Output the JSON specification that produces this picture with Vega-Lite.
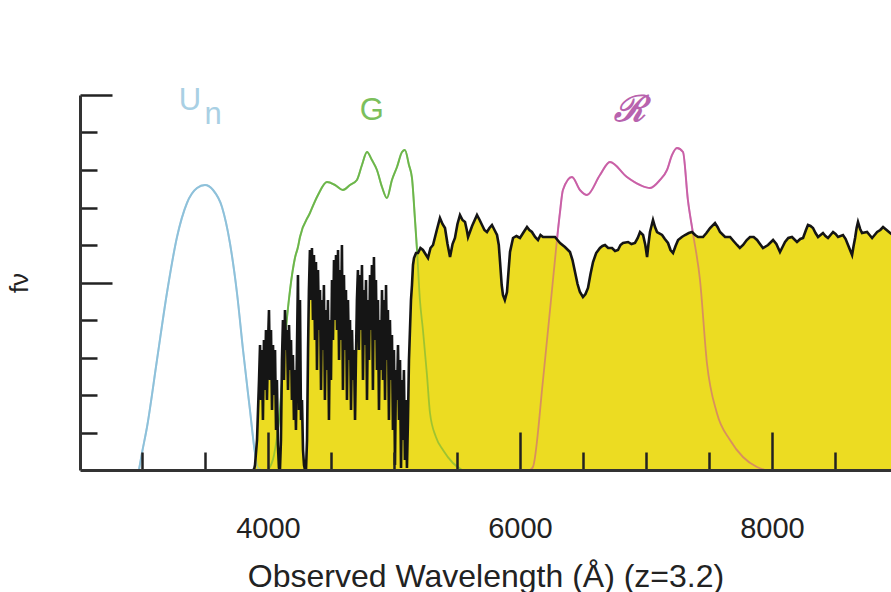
{
  "$schema": "https://vega.github.io/schema/vega-lite/v6.json",
  "width": 811,
  "height": 375,
  "autosize": {"type": "none"},
  "padding": {"left": 80, "top": 95, "right": 0, "bottom": 122},
  "background": "white",
  "config": {"view": {"stroke": null}},
  "datasets": {
    "spectrum": [
      {"w":3873,"f":0},{"w":3889,"f":0},{"w":3897,"f":5},{"w":3913,"f":30},{"w":3929,"f":90},{"w":3937,"f":125},{"w":3945,"f":70},{"w":3952,"f":120},{"w":3960,"f":50},{"w":3968,"f":130},{"w":3976,"f":80},{"w":3984,"f":140},{"w":3992,"f":70},{"w":4000,"f":125},{"w":4008,"f":160},{"w":4016,"f":90},{"w":4024,"f":140},{"w":4032,"f":60},{"w":4040,"f":125},{"w":4048,"f":75},{"w":4056,"f":120},{"w":4064,"f":40},{"w":4071,"f":90},{"w":4079,"f":25},{"w":4087,"f":2},{"w":4095,"f":0},{"w":4103,"f":30},{"w":4111,"f":110},{"w":4119,"f":150},{"w":4127,"f":90},{"w":4135,"f":160},{"w":4143,"f":120},{"w":4151,"f":140},{"w":4159,"f":80},{"w":4167,"f":145},{"w":4175,"f":100},{"w":4183,"f":130},{"w":4190,"f":70},{"w":4198,"f":115},{"w":4206,"f":50},{"w":4214,"f":100},{"w":4222,"f":40},{"w":4230,"f":120},{"w":4238,"f":195},{"w":4246,"f":60},{"w":4254,"f":170},{"w":4262,"f":50},{"w":4270,"f":70},{"w":4278,"f":20},{"w":4286,"f":5},{"w":4294,"f":0},{"w":4302,"f":1},{"w":4310,"f":30},{"w":4318,"f":120},{"w":4325,"f":180},{"w":4333,"f":220},{"w":4341,"f":170},{"w":4349,"f":222},{"w":4357,"f":150},{"w":4365,"f":215},{"w":4373,"f":130},{"w":4381,"f":208},{"w":4389,"f":100},{"w":4397,"f":200},{"w":4405,"f":140},{"w":4413,"f":180},{"w":4421,"f":80},{"w":4429,"f":170},{"w":4437,"f":120},{"w":4444,"f":185},{"w":4452,"f":70},{"w":4460,"f":160},{"w":4468,"f":100},{"w":4476,"f":170},{"w":4484,"f":50},{"w":4492,"f":150},{"w":4500,"f":90},{"w":4508,"f":190},{"w":4516,"f":130},{"w":4524,"f":210},{"w":4532,"f":150},{"w":4540,"f":215},{"w":4548,"f":140},{"w":4556,"f":220},{"w":4564,"f":110},{"w":4571,"f":200},{"w":4579,"f":130},{"w":4587,"f":225},{"w":4595,"f":80},{"w":4603,"f":195},{"w":4611,"f":120},{"w":4619,"f":180},{"w":4627,"f":70},{"w":4635,"f":170},{"w":4643,"f":110},{"w":4651,"f":150},{"w":4659,"f":60},{"w":4667,"f":140},{"w":4675,"f":90},{"w":4683,"f":120},{"w":4691,"f":50},{"w":4698,"f":110},{"w":4706,"f":170},{"w":4714,"f":200},{"w":4722,"f":120},{"w":4730,"f":195},{"w":4738,"f":140},{"w":4746,"f":205},{"w":4754,"f":90},{"w":4762,"f":180},{"w":4770,"f":125},{"w":4778,"f":190},{"w":4786,"f":70},{"w":4794,"f":170},{"w":4802,"f":110},{"w":4810,"f":195},{"w":4817,"f":140},{"w":4825,"f":205},{"w":4833,"f":80},{"w":4841,"f":213},{"w":4849,"f":130},{"w":4857,"f":190},{"w":4865,"f":100},{"w":4873,"f":170},{"w":4881,"f":60},{"w":4889,"f":150},{"w":4897,"f":100},{"w":4905,"f":180},{"w":4913,"f":90},{"w":4921,"f":170},{"w":4929,"f":70},{"w":4937,"f":185},{"w":4944,"f":110},{"w":4952,"f":160},{"w":4960,"f":50},{"w":4968,"f":150},{"w":4976,"f":90},{"w":4984,"f":135},{"w":4992,"f":40},{"w":5000,"f":120},{"w":5008,"f":5},{"w":5016,"f":100},{"w":5024,"f":70},{"w":5032,"f":125},{"w":5040,"f":50},{"w":5048,"f":110},{"w":5056,"f":2},{"w":5064,"f":90},{"w":5071,"f":30},{"w":5079,"f":100},{"w":5087,"f":10},{"w":5095,"f":70},{"w":5103,"f":2},{"w":5111,"f":50},{"w":5119,"f":110},{"w":5127,"f":140},{"w":5135,"f":170},{"w":5143,"f":185},{"w":5151,"f":205},{"w":5159,"f":212},{"w":5175,"f":217},
      {"w":5191,"f":217},{"w":5210,"f":222},{"w":5230,"f":220},{"w":5250,"f":216},{"w":5270,"f":212},{"w":5290,"f":222},{"w":5310,"f":225},{"w":5340,"f":240},{"w":5365,"f":252},{"w":5385,"f":246},{"w":5405,"f":242},{"w":5425,"f":226},{"w":5445,"f":213},{"w":5465,"f":226},{"w":5484,"f":232},{"w":5504,"f":246},{"w":5524,"f":255},{"w":5544,"f":250},{"w":5564,"f":248},{"w":5578,"f":240},{"w":5588,"f":233},{"w":5620,"f":244},{"w":5659,"f":255},{"w":5680,"f":250},{"w":5699,"f":245},{"w":5718,"f":240},{"w":5738,"f":238},{"w":5758,"f":242},{"w":5778,"f":245},{"w":5798,"f":240},{"w":5818,"f":235},{"w":5832,"f":225},{"w":5842,"f":208},{"w":5855,"f":185},{"w":5865,"f":175},{"w":5880,"f":170},{"w":5897,"f":178},{"w":5910,"f":200},{"w":5921,"f":218},{"w":5945,"f":232},{"w":5972,"f":234},{"w":6000,"f":232},{"w":6030,"f":238},{"w":6056,"f":243},{"w":6075,"f":240},{"w":6095,"f":238},{"w":6120,"f":233},{"w":6143,"f":230},{"w":6163,"f":235},{"w":6183,"f":233},{"w":6230,"f":233},{"w":6278,"f":233},{"w":6298,"f":230},{"w":6318,"f":227},{"w":6357,"f":223},{"w":6397,"f":218},{"w":6417,"f":210},{"w":6437,"f":198},{"w":6457,"f":186},{"w":6476,"f":178},{"w":6500,"f":173},{"w":6520,"f":176},{"w":6540,"f":182},{"w":6560,"f":196},{"w":6580,"f":208},{"w":6605,"f":217},{"w":6635,"f":222},{"w":6655,"f":224},{"w":6675,"f":225},{"w":6700,"f":222},{"w":6731,"f":222},{"w":6755,"f":219},{"w":6778,"f":220},{"w":6798,"f":225},{"w":6818,"f":227},{"w":6858,"f":228},{"w":6885,"f":226},{"w":6913,"f":227},{"w":6935,"f":232},{"w":6953,"f":238},{"w":6977,"f":235},{"w":6995,"f":225},{"w":7009,"f":213},{"w":7020,"f":226},{"w":7032,"f":238},{"w":7056,"f":250},{"w":7072,"f":243},{"w":7088,"f":238},{"w":7128,"f":235},{"w":7150,"f":231},{"w":7175,"f":227},{"w":7195,"f":220},{"w":7215,"f":217},{"w":7235,"f":224},{"w":7255,"f":230},{"w":7285,"f":233},{"w":7310,"f":235},{"w":7340,"f":237},{"w":7366,"f":238},{"w":7390,"f":235},{"w":7414,"f":233},{"w":7453,"f":233},{"w":7480,"f":237},{"w":7509,"f":242},{"w":7548,"f":247},{"w":7568,"f":243},{"w":7588,"f":238},{"w":7628,"f":233},{"w":7668,"f":233},{"w":7695,"f":229},{"w":7723,"f":225},{"w":7745,"f":222},{"w":7771,"f":225},{"w":7800,"f":230},{"w":7826,"f":233},{"w":7855,"f":233},{"w":7882,"f":230},{"w":7905,"f":226},{"w":7929,"f":222},{"w":7969,"f":225},{"w":8009,"f":230},{"w":8035,"f":226},{"w":8064,"f":218},{"w":8084,"f":223},{"w":8104,"f":228},{"w":8130,"f":232},{"w":8159,"f":233},{"w":8199,"f":228},{"w":8225,"f":231},{"w":8247,"f":232},{"w":8270,"f":240},{"w":8286,"f":245},{"w":8306,"f":244},{"w":8326,"f":242},{"w":8346,"f":237},{"w":8366,"f":233},{"w":8405,"f":237},{"w":8425,"f":234},{"w":8445,"f":232},{"w":8465,"f":235},{"w":8485,"f":238},{"w":8505,"f":236},{"w":8525,"f":233},{"w":8564,"f":235},{"w":8585,"f":231},{"w":8604,"f":225},{"w":8620,"f":220},{"w":8636,"f":215},{"w":8648,"f":224},{"w":8660,"f":232},{"w":8672,"f":242},{"w":8683,"f":248},{"w":8700,"f":241},{"w":8715,"f":237},{"w":8755,"f":238},{"w":8775,"f":235},{"w":8795,"f":232},{"w":8815,"f":235},{"w":8835,"f":238},{"w":8860,"f":240},{"w":8882,"f":243},{"w":8910,"f":240},{"w":8938,"f":237},{"w":8960,"f":235}
    ],
    "filters": [
      {"band":"Un","w":2976,"f":0},{"band":"Un","w":3000,"f":17},{"band":"Un","w":3040,"f":43},{"band":"Un","w":3119,"f":110},{"band":"Un","w":3198,"f":177},{"band":"Un","w":3278,"f":233},{"band":"Un","w":3357,"f":267},{"band":"Un","w":3437,"f":282},{"band":"Un","w":3500,"f":285},{"band":"Un","w":3564,"f":280},{"band":"Un","w":3635,"f":263},{"band":"Un","w":3698,"f":227},{"band":"Un","w":3754,"f":177},{"band":"Un","w":3802,"f":120},{"band":"Un","w":3857,"f":60},{"band":"Un","w":3897,"f":17},{"band":"Un","w":3921,"f":2},{"band":"Un","w":3952,"f":0},
      {"band":"G","w":4000,"f":0},{"band":"G","w":4048,"f":15},{"band":"G","w":4095,"f":60},{"band":"G","w":4135,"f":130},{"band":"G","w":4175,"f":180},{"band":"G","w":4214,"f":212},{"band":"G","w":4238,"f":223},{"band":"G","w":4254,"f":233},{"band":"G","w":4333,"f":257},{"band":"G","w":4397,"f":275},{"band":"G","w":4468,"f":288},{"band":"G","w":4532,"f":285},{"band":"G","w":4595,"f":280},{"band":"G","w":4651,"f":285},{"band":"G","w":4706,"f":290},{"band":"G","w":4746,"f":305},{"band":"G","w":4786,"f":318},{"band":"G","w":4825,"f":310},{"band":"G","w":4865,"f":300},{"band":"G","w":4905,"f":283},{"band":"G","w":4944,"f":272},{"band":"G","w":4984,"f":290},{"band":"G","w":5024,"f":303},{"band":"G","w":5064,"f":318},{"band":"G","w":5087,"f":320},{"band":"G","w":5119,"f":305},{"band":"G","w":5143,"f":292},{"band":"G","w":5167,"f":250},{"band":"G","w":5183,"f":220},{"band":"G","w":5206,"f":170},{"band":"G","w":5230,"f":140},{"band":"G","w":5262,"f":95},{"band":"G","w":5286,"f":57},{"band":"G","w":5333,"f":33},{"band":"G","w":5389,"f":20},{"band":"G","w":5468,"f":7},{"band":"G","w":5540,"f":0},
      {"band":"R","w":6079,"f":0},{"band":"R","w":6103,"f":3},{"band":"R","w":6183,"f":90},{"band":"R","w":6262,"f":190},{"band":"R","w":6317,"f":257},{"band":"R","w":6341,"f":280},{"band":"R","w":6413,"f":293},{"band":"R","w":6476,"f":280},{"band":"R","w":6532,"f":275},{"band":"R","w":6635,"f":295},{"band":"R","w":6714,"f":308},{"band":"R","w":6849,"f":293},{"band":"R","w":6953,"f":285},{"band":"R","w":7032,"f":282},{"band":"R","w":7111,"f":290},{"band":"R","w":7167,"f":300},{"band":"R","w":7207,"f":315},{"band":"R","w":7246,"f":322},{"band":"R","w":7294,"f":318},{"band":"R","w":7333,"f":270},{"band":"R","w":7373,"f":237},{"band":"R","w":7429,"f":190},{"band":"R","w":7484,"f":107},{"band":"R","w":7563,"f":57},{"band":"R","w":7667,"f":30},{"band":"R","w":7770,"f":13},{"band":"R","w":7881,"f":3},{"band":"R","w":7945,"f":0}
    ],
    "labels": [
      {"band":"Un","text":"U","w":3381,"f":369},
      {"band":"Un","text":"n","w":3564,"f":355},
      {"band":"G","text":"G","w":4825,"f":359}
    ],
    "scriptLabels": [
      {"band":"R","text":"ℛ","w":6873,"f":360}
    ]
  },
  "layer": [
    {
      "data": {"name": "filters"},
      "mark": {"type": "line", "interpolate": "monotone", "strokeWidth": 2, "clip": true},
      "encoding": {
        "x": {"field": "w", "type": "quantitative", "scale": {"domain": [2508, 8945], "nice": false, "zero": false},
          "axis": {"orient": "bottom", "values": [3000,3500,4000,4500,5000,5500,6000,6500,7000,7500,8000,8500], "labels": false, "title": null, "grid": false,
            "domain": true, "domainColor": "#333333", "domainWidth": 3, "tickColor": "#222222", "tickWidth": 2.5,
            "tickSize": {"condition": {"test": "datum.value % 2000 === 0", "value": -38}, "value": -18}, "zindex": 1}},
        "y": {"field": "f", "type": "quantitative", "scale": {"domain": [0, 375], "nice": false},
          "axis": {"values": [37.5,75,112.5,150,187.5,225,262.5,300,337.5,375], "labels": false, "grid": false, "title": "fν",
            "titleFont": "Liberation Sans", "titleFontSize": 26, "titleFontWeight": "normal", "titleColor": "#222222", "titlePadding": 46,
            "domainColor": "#333333", "domainWidth": 3, "tickColor": "#222222", "tickWidth": 2.5,
            "tickSize": {"condition": {"test": "datum.value === 187.5 || datum.value === 375", "value": -32}, "value": -17}, "zindex": 1}},
        "color": {"field": "band", "type": "nominal", "scale": {"domain": ["Un","G","R"], "range": ["#8EC1DA","#7CBF5C","#CC74BF"]}, "legend": null},
        "detail": {"field": "band"}
      }
    },
    {
      "data": {"name": "spectrum"},
      "mark": {"type": "area", "color": "#ECDC22", "clip": true},
      "encoding": {
        "x": {"field": "w", "type": "quantitative", "axis": null},
        "y": {"field": "f", "type": "quantitative"}
      }
    },
    {
      "data": {"name": "filters"},
      "mark": {"type": "line", "interpolate": "monotone", "strokeWidth": 1.8, "opacity": 0.55, "clip": true},
      "encoding": {
        "x": {"field": "w", "type": "quantitative", "axis": null},
        "y": {"field": "f", "type": "quantitative"},
        "color": {"field": "band", "type": "nominal", "scale": {"domain": ["Un","G","R"], "range": ["#8EC1DA","#5FAF3C","#C8508F"]}, "legend": null},
        "detail": {"field": "band"}
      }
    },
    {
      "data": {"name": "spectrum"},
      "mark": {"type": "line", "color": "#151515", "strokeWidth": 2.6, "clip": true},
      "encoding": {
        "x": {"field": "w", "type": "quantitative",
          "axis": {"orient": "bottom", "values": [4000,6000,8000], "format": "d", "ticks": false, "tickSize": 0, "domain": false, "grid": false,
            "labelFont": "Liberation Sans", "labelFontSize": 29, "labelColor": "#222222", "labelPadding": 44,
            "title": "Observed Wavelength (Å) (z=3.2)", "titleFont": "Liberation Sans", "titleFontSize": 32, "titleFontWeight": "normal", "titleColor": "#222222", "titlePadding": 18}},
        "y": {"field": "f", "type": "quantitative"}
      }
    },
    {
      "data": {"name": "labels"},
      "mark": {"type": "text", "font": "Liberation Sans", "fontSize": 31, "baseline": "middle", "align": "center"},
      "encoding": {
        "x": {"field": "w", "type": "quantitative", "axis": null},
        "y": {"field": "f", "type": "quantitative"},
        "text": {"field": "text"},
        "color": {"field": "band", "type": "nominal", "scale": {"domain": ["Un","G","R"], "range": ["#A9D0E4","#7CBF5C","#B863AE"]}, "legend": null}
      }
    },
    {
      "data": {"name": "scriptLabels"},
      "mark": {"type": "text", "font": "DejaVu Serif", "fontStyle": "italic", "fontWeight": "bold", "fontSize": 36, "baseline": "middle", "align": "center", "color": "#B863AE"},
      "encoding": {
        "x": {"field": "w", "type": "quantitative", "axis": null},
        "y": {"field": "f", "type": "quantitative"},
        "text": {"field": "text"}
      }
    }
  ],
  "resolve": {"axis": {"x": "independent"}, "scale": {"color": "independent"}}
}
